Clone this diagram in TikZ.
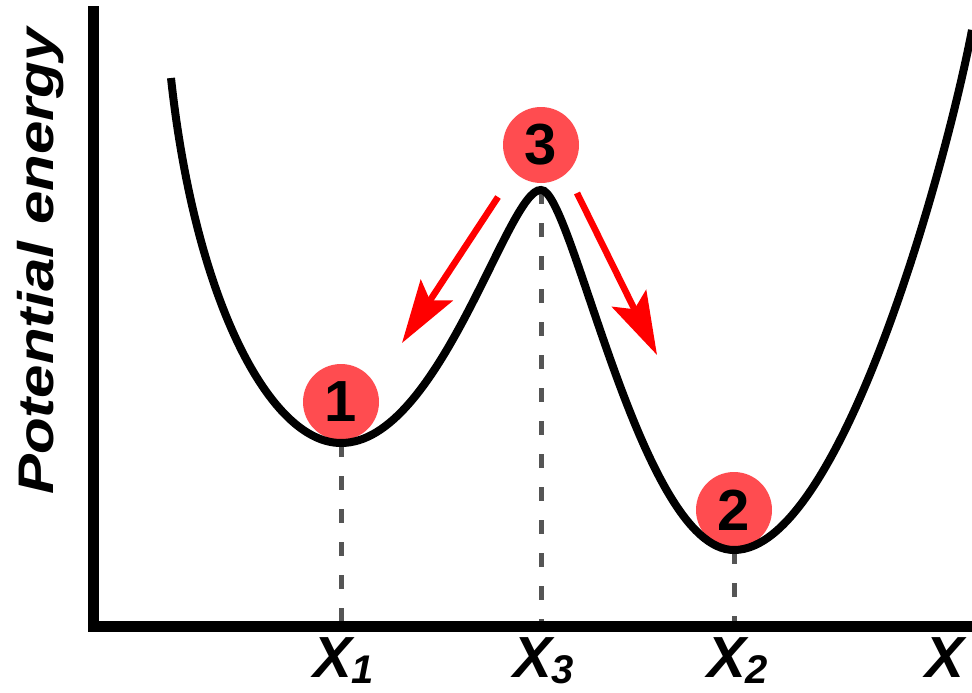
\documentclass[tikz,border=0pt]{standalone}
\usepackage{fontspec}
\setmainfont{Liberation Sans}
\usetikzlibrary{arrows.meta}
\definecolor{ballred}{HTML}{FF4C50}
\definecolor{dashgray}{HTML}{555555}
\begin{document}
\begin{tikzpicture}[x=1pt,y=-1pt,
  axisline/.style={line width=11pt,line cap=rect},
  curveline/.style={line width=8pt,line cap=butt},
  dropline/.style={line width=5pt,dashgray,dash pattern=on 14pt off 19pt},
  ball/.style={circle,fill=ballred,minimum size=76pt,inner sep=0pt,
    font=\fontsize{58}{58}\selectfont\bfseries},
  xlabel/.style={anchor=base west,inner sep=0pt,
    font=\fontsize{58}{58}\selectfont\bfseries\itshape},
  redarrow/.style={draw=red,line width=6.5pt,
    -{Stealth[length=63pt,width=38pt,inset=12pt]}}]
\useasboundingbox (0,0) rectangle (972,693);
% coordinates
\coordinate (m1) at (341,443);
\coordinate (m3) at (541,190);
\coordinate (m2) at (734,550);
\coordinate (b1) at (341,621);
\coordinate (b3) at (541,621);
\coordinate (b2) at (734,621);
\coordinate (corner) at (93,626);
\coordinate (ytop) at (93,12);
\coordinate (xend) at (972,626);
\coordinate (s0) at (171,78);
\coordinate (s4) at (972,30);
% drop lines
\draw[dropline] (m1) -- (b1);
\draw[dropline] (m3) -- (b3);
\draw[dropline] (m2) -- (b2);
% axes
\draw[axisline] (ytop) -- (corner) -- (xend);
% balls
\node[ball] (c1) at (341,402) {1};
\node[ball] (c3) at (541,145) {3};
\node[ball] (c2) at (734,510) {2};
% curve
\draw[curveline] (s0) .. controls (195,300) and (270,443) .. (m1)
  .. controls (440,443) and (508,188) .. (m3)
  .. controls (572,188) and (640,550) .. (m2)
  .. controls (840,550) and (945,170) .. (s4);
% arrows
\coordinate (a1s) at (498,197);
\coordinate (a1e) at (402,343);
\coordinate (a2s) at (577,193);
\coordinate (a2e) at (657,355);
\draw[redarrow] (a1s) -- (a1e);
\draw[redarrow] (a2s) -- (a2e);
% labels
\node[xlabel] (l1) at (313,677) {X\raisebox{-6pt}{\fontsize{40}{40}\selectfont 1}};
\node[xlabel] (l3) at (513,677) {X\raisebox{-6pt}{\fontsize{40}{40}\selectfont 3}};
\node[xlabel] (l2) at (707,677) {X\raisebox{-6pt}{\fontsize{40}{40}\selectfont 2}};
\node[xlabel] (lx) at (925,677) {X};
\node[rotate=90,anchor=base west,inner sep=0pt,
  font=\fontsize{50}{50}\selectfont\bfseries\itshape] (ylab) at (53,495)
  {\scalebox{1.2}[1]{Potential energy}};
\end{tikzpicture}
\end{document}
